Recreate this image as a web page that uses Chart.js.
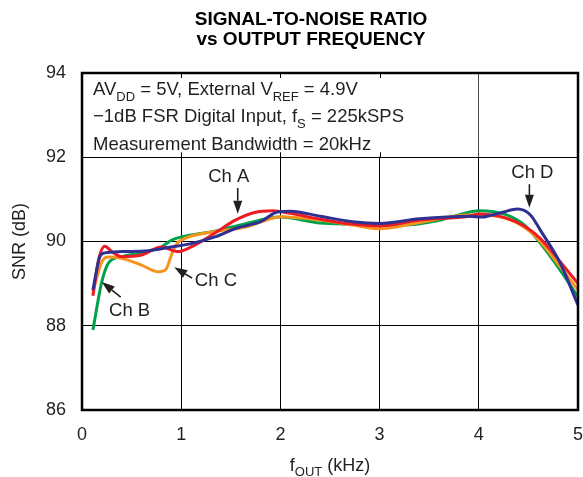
<!DOCTYPE html>
<html>
<head>
<meta charset="utf-8">
<script src="https://cdn.jsdelivr.net/npm/chart.js@4.4.0/dist/chart.umd.min.js"></script>
<style>
  html, body { margin: 0; padding: 0; background: #fff; }
</style>
</head>
<body>
<canvas id="snr" width="583" height="477"></canvas>
<script>
// SNR vs output frequency, four channels
const freqA = [0.11, 0.17, 0.23, 0.3, 0.4, 0.6, 0.8, 0.97, 1.1, 1.34, 1.54, 1.74, 1.92, 2.1, 2.4, 2.7, 3.0, 3.4, 3.9, 4.0, 4.27, 4.47, 4.62, 4.82, 5.0];
const snrA  = [88.71, 89.6, 89.89, 89.76, 89.64, 89.68, 89.87, 89.76, 89.87, 90.2, 90.5, 90.69, 90.73, 90.67, 90.53, 90.42, 90.37, 90.51, 90.6, 90.65, 90.56, 90.35, 90.07, 89.52, 89.0];

const freqB = [0.11, 0.2, 0.27, 0.4, 0.6, 0.8, 0.9, 1.0, 1.35, 1.66, 2.0, 2.4, 2.73, 3.0, 3.24, 3.58, 3.78, 4.0, 4.28, 4.48, 4.62, 4.82, 5.0];
const snrB  = [87.9, 89.05, 89.5, 89.64, 89.73, 89.87, 90.03, 90.11, 90.25, 90.43, 90.58, 90.44, 90.41, 90.39, 90.39, 90.49, 90.62, 90.73, 90.63, 90.35, 89.96, 89.32, 88.69];

const freqC = [0.11, 0.2, 0.27, 0.4, 0.6, 0.77, 0.84, 0.91, 0.96, 1.0, 1.1, 1.32, 1.66, 1.86, 2.0, 2.4, 2.73, 3.0, 3.4, 3.9, 4.0, 4.27, 4.47, 4.62, 4.82, 5.0];
const snrC  = [88.81, 89.52, 89.63, 89.6, 89.44, 89.28, 89.32, 89.73, 89.96, 90.03, 90.13, 90.23, 90.35, 90.51, 90.59, 90.51, 90.39, 90.3, 90.45, 90.63, 90.63, 90.55, 90.32, 90.0, 89.4, 88.85];

const freqD = [0.11, 0.18, 0.23, 0.4, 0.67, 0.9, 1.1, 1.34, 1.56, 1.8, 1.97, 2.1, 2.4, 2.73, 3.0, 3.4, 3.9, 4.03, 4.12, 4.25, 4.39, 4.52, 4.62, 4.82, 5.0];
const snrD  = [88.85, 89.64, 89.73, 89.76, 89.78, 89.87, 89.95, 90.11, 90.32, 90.47, 90.7, 90.72, 90.6, 90.47, 90.43, 90.54, 90.6, 90.58, 90.62, 90.7, 90.77, 90.63, 90.27, 89.49, 88.49];

const xTicks = [0, 1, 2, 3, 4, 5];
const yTicks = [86, 88, 90, 92, 94];

// label text, label position, arrow tail, arrow head (kHz, dB)
const callouts = [
  { text: 'Ch A', at: [1.48, 91.53], from: [1.57, 91.27], to: [1.57, 90.66] },
  { text: 'Ch B', at: [0.48, 88.35], from: [0.39, 88.68], to: [0.2, 89.04] },
  { text: 'Ch C', at: [1.35, 89.06], from: [1.11, 89.13], to: [0.93, 89.39] },
  { text: 'Ch D', at: [4.54, 91.63], from: [4.51, 91.36], to: [4.51, 90.8] }
];

const FONT = '"Liberation Sans", Arial, sans-serif';
const INK = '#231f20';

function pts(xs, ys) {
  return xs.map((x, i) => ({ x: x, y: ys[i] }));
}

// draw text made of [string, isSubscript] pieces
function richText(ctx, parts, x, y, size, align, weight) {
  const w = weight || '';
  const subSize = Math.round(size * 0.72);
  let total = 0;
  parts.forEach(p => {
    ctx.font = w + ' ' + (p[1] ? subSize : size) + 'px ' + FONT;
    total += ctx.measureText(p[0]).width;
  });
  let cx = align === 'center' ? x - total / 2 : x;
  ctx.textAlign = 'left';
  ctx.textBaseline = 'alphabetic';
  parts.forEach(p => {
    ctx.font = w + ' ' + (p[1] ? subSize : size) + 'px ' + FONT;
    ctx.fillText(p[0], cx, p[1] ? y + size * 0.3 : y);
    cx += ctx.measureText(p[0]).width;
  });
}

function arrow(ctx, x1, y1, x2, y2) {
  const ang = Math.atan2(y2 - y1, x2 - x1);
  const len = 13, half = 4.5;
  const bx = x2 - len * Math.cos(ang), by = y2 - len * Math.sin(ang);
  ctx.beginPath();
  ctx.moveTo(x1, y1);
  ctx.lineTo(bx, by);
  ctx.lineWidth = 1.6;
  ctx.stroke();
  ctx.beginPath();
  ctx.moveTo(x2, y2);
  ctx.lineTo(bx + half * Math.sin(ang), by - half * Math.cos(ang));
  ctx.lineTo(bx - half * Math.sin(ang), by + half * Math.cos(ang));
  ctx.closePath();
  ctx.fill();
}

const decor = {
  id: 'decor',
  beforeDatasetsDraw(chart) {
    const { ctx, scales: { x, y } } = chart;
    ctx.save();
    // conditions box over the top band
    const bx0 = x.getPixelForValue(0), bx1 = x.getPixelForValue(4);
    const by0 = y.getPixelForValue(94), by1 = y.getPixelForValue(92);
    ctx.fillStyle = '#fff';
    ctx.fillRect(bx0, by0, bx1 - bx0 - 0.5, by1 - by0 - 0.5);
    ctx.strokeStyle = '#000';
    ctx.lineWidth = 1;
    [1, 2, 3].forEach(v => {
      const px = Math.round(x.getPixelForValue(v)) + 0.5;
      ctx.beginPath();
      ctx.moveTo(px, by0); ctx.lineTo(px, by0 + 5);
      ctx.moveTo(px, by1); ctx.lineTo(px, by1 - 5);
      ctx.stroke();
    });
    ctx.fillStyle = INK;
    const tx = bx0 + 11;
    richText(ctx, [['AV', 0], ['DD', 1], [' = 5V, External V', 0], ['REF', 1], [' = 4.9V', 0]], tx, by0 + 22, 18.5, 'left');
    richText(ctx, [['\u22121dB FSR Digital Input, f', 0], ['S', 1], [' = 225kSPS', 0]], tx, by0 + 49, 18.5, 'left');
    richText(ctx, [['Measurement Bandwidth = 20kHz', 0]], tx, by0 + 77, 18.5, 'left');
    ctx.restore();
  },
  afterDraw(chart) {
    const { ctx, scales: { x, y }, chartArea: a } = chart;
    ctx.save();
    // plot frame
    ctx.strokeStyle = '#000';
    ctx.lineWidth = 2.5;
    ctx.strokeRect(a.left, a.top, a.right - a.left, a.bottom - a.top);

    ctx.fillStyle = INK;
    ctx.strokeStyle = INK;
    callouts.forEach(c => {
      ctx.font = '18.5px ' + FONT;
      ctx.textAlign = 'center';
      ctx.textBaseline = 'middle';
      ctx.fillText(c.text, x.getPixelForValue(c.at[0]), y.getPixelForValue(c.at[1]));
      arrow(ctx, x.getPixelForValue(c.from[0]), y.getPixelForValue(c.from[1]),
        x.getPixelForValue(c.to[0]), y.getPixelForValue(c.to[1]));
    });

    // titles
    ctx.fillStyle = '#000';
    richText(ctx, [['SIGNAL-TO-NOISE RATIO', 0]], 311, 25, 19, 'center', 'bold');
    richText(ctx, [['vs OUTPUT FREQUENCY', 0]], 311, 45, 19, 'center', 'bold');

    ctx.fillStyle = INK;
    richText(ctx, [['f', 0], ['OUT', 1], [' (kHz)', 0]], (a.left + a.right) / 2, 471, 18, 'center');

    ctx.save();
    ctx.translate(25, (a.top + a.bottom) / 2);
    ctx.rotate(-Math.PI / 2);
    richText(ctx, [['SNR (dB)', 0]], 0, 0, 18, 'center');
    ctx.restore();
    ctx.restore();
  }
};

const line = (label, xs, ys, color) => ({
  label: label,
  data: pts(xs, ys),
  borderColor: color,
  borderWidth: 3,
  pointRadius: 0,
  fill: false,
  cubicInterpolationMode: 'monotone'
});

new Chart(document.getElementById('snr'), {
  type: 'line',
  data: {
    datasets: [
      line('Ch D', freqD, snrD, '#2e3192'),
      line('Ch A', freqA, snrA, '#ed1c24'),
      line('Ch C', freqC, snrC, '#f7941d'),
      line('Ch B', freqB, snrB, '#00a14b')
    ]
  },
  options: {
    responsive: false,
    animation: false,
    layout: { padding: { top: 73, right: 5, left: 0, bottom: 0 } },
    plugins: {
      legend: { display: false },
      tooltip: { enabled: false },
      title: { display: false }
    },
    scales: {
      x: {
        type: 'linear',
        min: 0,
        max: 5,
        afterBuildTicks: s => { s.ticks = xTicks.map(v => ({ value: v })); },
        afterFit: s => { s.height = 67; s.paddingLeft = 0; s.paddingRight = 0; },
        grid: { color: '#000', lineWidth: 1, drawTicks: false },
        border: { display: false },
        ticks: { color: INK, font: { family: FONT, size: 18 }, padding: 14, maxRotation: 0 }
      },
      y: {
        type: 'linear',
        min: 86,
        max: 94,
        afterBuildTicks: s => { s.ticks = yTicks.map(v => ({ value: v })); },
        afterFit: s => { s.width = 82; s.paddingTop = 0; s.paddingBottom = 0; },
        grid: { color: '#000', lineWidth: 1, drawTicks: false },
        border: { display: false },
        ticks: { color: INK, font: { family: FONT, size: 18 }, padding: 16 }
      }
    }
  },
  plugins: [decor]
});
</script>
</body>
</html>
